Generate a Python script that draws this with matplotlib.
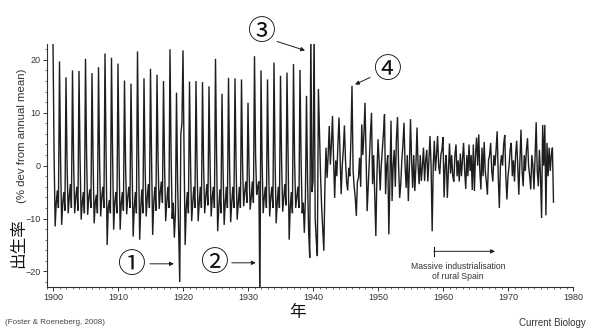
import numpy as np
import matplotlib
matplotlib.use("Agg")
import matplotlib.pyplot as plt
from matplotlib.ticker import MultipleLocator, FixedLocator

# Spanish birth rate, % deviation from annual mean, sampled every 2 months
# (Jan, Mar, May, Jul, Sep, Nov) -- values estimated from the figure
births_1900s = [
    23.5, 2.0, -11.5, -7.0, -4.7, -8.0,
    19.7, 1.0, -11.2, -7.0, -5.0, -8.5,
    16.7, 0.0, -9.0, -6.0, -3.5, -8.0,
    18.0, 1.0, -9.0, -6.0, -4.0, -8.5,
    17.9, 1.0, -10.2, -7.0, -5.0, -9.0,
    20.2, 2.0, -9.3, -6.0, -4.5, -8.0,
    17.5, 1.0, -10.9, -7.0, -5.5, -9.0,
    18.6, 1.0, -9.6, -6.0, -4.0, -8.0,
    21.2, 2.0, -15.0, -8.0, -6.5, -9.0,
    20.4, 2.0, -12.1, -7.0, -5.0, -9.0,
]
births_1910s = [
    19.3, 1.0, -12.1, -7.0, -5.0, -8.5,
    16.1, 0.0, -9.2, -6.0, -4.0, -8.0,
    15.5, 0.0, -13.4, -8.0, -5.0, -9.0,
    21.6, 2.0, -14.0, -8.0, -4.5, -9.0,
    16.5, 0.0, -9.6, -6.0, -3.5, -8.0,
    18.3, 1.0, -13.1, -7.0, -4.0, -8.5,
    17.2, 1.0, -8.2, -5.0, -3.0, -7.0,
    16.0, 0.0, -10.5, -7.0, -4.0, -8.0,
    22.0, 2.0, -10.0, -7.0, -13.6, -9.0,
    13.8, -3.0, -13.0, -22.0, 6.0, 8.0,
]
births_1920s = [
    21.8, 2.0, -15.0, -8.0, -5.0, -9.0,
    15.9, 0.0, -10.5, -7.0, -4.0, -8.0,
    16.0, 0.0, -10.5, -7.0, -4.0, -8.0,
    15.8, 0.0, -9.0, -6.0, -3.5, -7.5,
    15.0, 0.0, -9.6, -6.0, -4.0, -8.0,
    20.2, 2.0, -12.4, -8.0, -4.5, -9.0,
    13.6, -1.0, -11.2, -7.0, -4.0, -8.0,
    16.6, 0.0, -10.7, -7.0, -4.0, -8.0,
    16.5, 0.0, -10.2, -7.0, -4.0, -8.0,
    16.3, 0.0, -7.7, -5.0, -3.0, -7.0,
]
births_1930s = [
    11.9, -1.0, -8.3, -6.0, -3.0, -7.0,
    20.7, 2.0, -5.5, -4.0, -3.0, -26.0,
    18.0, 1.0, -9.0, -6.0, -4.0, -8.0,
    16.3, 0.0, -9.6, -6.0, -4.0, -8.0,
    19.5, 1.0, -10.9, -7.0, -4.0, -8.0,
    17.0, 1.0, -8.7, -6.0, -3.5, -7.5,
    17.6, 1.0, -14.0, -8.0, -5.0, -9.0,
    19.2, 1.0, -8.0, -6.0, -4.0, -8.0,
    18.1, 1.0, -9.0, -7.0, -12.7, -6.0,
    13.2, -3.0, -12.7, -17.4, 26.0, -5.0,
]
births_1940s = [
    -3.0, 26.0, -10.0, -14.0, -17.1, 14.5,
    6.0, -2.0, -8.0, -12.0, -16.1, -4.0,
    3.4, -2.3, 2.0, 7.5, 0.2, 4.0,
    9.4, 1.0, -6.1, 1.0, -2.0, 4.0,
    9.1, 2.0, -5.4, 0.0, 3.0, 7.6,
    1.0, -3.0, -4.7, -0.4, -2.0, 5.0,
    15.1, -0.9, -4.0, -6.0, -9.5, -3.0,
    -2.3, 1.5, -4.0, 7.8, 2.0, 6.0,
    11.9, 2.0, -8.6, -4.0, 1.0, 6.0,
    10.0, -3.5, 2.0, -6.0, -13.3, -2.0,
]
births_1950s = [
    5.0, 1.0, -4.7, 0.0, 3.0, 6.0,
    9.7, -5.4, 0.0, 2.0, -13.0, -3.0,
    8.5, -6.7, 0.0, 3.0, -4.0, 5.0,
    9.2, 0.0, -6.1, -3.5, 1.0, 4.0,
    8.1, 0.0, -4.2, 2.0, -6.7, 0.0,
    8.8, 1.0, -4.2, 2.0, -4.8, 0.0,
    7.2, 0.0, -3.5, 2.0, -2.9, 0.0,
    3.4, -2.9, 1.0, 3.0, -3.0, 1.0,
    5.6, 0.0, -12.4, 0.0, 4.7, -1.0,
    2.0, 5.6, 0.0, -1.6, 2.0, 3.0,
]
births_1960s = [
    5.4, -6.0, 0.0, 2.0, -6.1, -1.0,
    4.2, -1.5, 2.0, -2.0, -3.0, 2.0,
    4.0, -2.0, 1.0, -3.0, 2.3, -2.0,
    1.0, 4.3, -1.0, -4.4, 2.0, -2.0,
    4.0, -1.0, 2.0, -4.6, 4.0, -4.8,
    2.0, 5.3, 0.0, 5.9, -1.0, -4.5,
    3.4, -2.0, 4.5, -1.0, -3.0, -5.5,
    1.0, 2.0, 4.3, -1.0, -3.0, 2.0,
    0.0, 3.0, 6.5, -2.0, -8.0, 0.0,
    2.0, 0.0, 4.0, 5.8, -2.0, -6.4,
]
births_1970s = [
    -2.0, 0.0, 3.0, 4.3, -2.0, 1.0,
    -3.0, 2.0, 4.7, 0.0, -5.5, 1.0,
    6.8, -1.0, -3.9, 2.0, -1.0, 3.0,
    5.2, 0.0, -2.0, -4.5, 2.0, 0.0,
    -4.5, 2.0, 8.2, -1.0, -3.9, 3.0,
    -2.0, -9.9, 7.7, 0.0, 7.7, -9.4,
    4.3, -2.0, 3.4, -1.0, 2.0, 3.4,
    -6.9,
]

start_year = 1900
samples_per_year = 6
x_major_ticks = [1900, 1910, 1920, 1930, 1940, 1950, 1960, 1970, 1980]
y_major_ticks = [-20, -10, 0, 10, 20]

values = np.array(births_1900s + births_1910s + births_1920s + births_1930s +
                  births_1940s + births_1950s + births_1960s + births_1970s)
years = start_year + np.arange(len(values)) / samples_per_year

CJK = ["Noto Sans CJK JP", "DejaVu Sans"]
SANS = ["Liberation Sans", "DejaVu Sans"]
INK = "#1e1e1e"

fig = plt.figure(figsize=(5.9, 3.32), dpi=100)
ax = fig.add_axes([46.5 / 590, (332 - 287.3) / 332, (573 - 46.5) / 590, (287.3 - 44) / 332])

ax.plot(years, values, color=INK, lw=1.0, solid_joinstyle="miter")

ax.set_xlim(1899, 1980)
ax.set_ylim(-23, 23)
for s in ("top", "right"):
    ax.spines[s].set_visible(False)
for s in ("left", "bottom"):
    ax.spines[s].set_color("#333333")
    ax.spines[s].set_linewidth(0.8)

ax.xaxis.set_major_locator(FixedLocator(x_major_ticks))
ax.xaxis.set_minor_locator(MultipleLocator(1))
ax.yaxis.set_major_locator(FixedLocator(y_major_ticks))
ax.yaxis.set_minor_locator(MultipleLocator(2))
ax.tick_params(which="major", direction="out", length=2.8, width=0.7, color="#333333",
               labelsize=6.5, labelcolor="#333333", pad=1.5)
ax.tick_params(which="minor", direction="out", length=1.5, width=0.5, color="#333333")
for lab in ax.get_xticklabels() + ax.get_yticklabels():
    lab.set_fontfamily(SANS)

# Y label: 出生率 (% dev from annual mean)
fig.text(19 / 590, (332 - 268) / 332, "出生率", rotation=90, ha="center", va="bottom",
         fontsize=12, family=CJK, color="#111111")
fig.text(22 / 590, (332 - 203) / 332, "(% dev from annual mean)", rotation=90,
         ha="center", va="bottom", fontsize=8.2, family=SANS, color="#333333")
# X label
fig.text(298 / 590, 1 - 313 / 332, "年", ha="center", va="center", fontsize=12,
         family=CJK, color="#111111")
fig.text(5 / 590, 1 - 323 / 332, "(Foster & Roeneberg, 2008)", ha="left", va="center",
         fontsize=5.8, family=SANS, color="#444444")
fig.text(586 / 590, 1 - 323 / 332, "Current Biology", ha="right", va="center",
         fontsize=7, family=SANS, color="#333333")

# circled markers and arrows
circ_kw = dict(ha="center", va="center", fontsize=20, family=CJK, color="#111111", clip_on=False)
ax.text(1912.0, -18.75, "①", **circ_kw)
ax.text(1924.77, -18.4, "②", **circ_kw)
ax.text(1932.0, 25.2, "③", **circ_kw)
ax.text(1951.38, 18.0, "④", **circ_kw)

arr = dict(arrowstyle="-|>", color=INK, lw=0.7, mutation_scale=6, shrinkA=0, shrinkB=0)
ax.annotate("", xy=(1918.6, -18.56), xytext=(1914.9, -18.56), arrowprops=arr, annotation_clip=False)
ax.annotate("", xy=(1931.2, -18.37), xytext=(1927.5, -18.37), arrowprops=arr, annotation_clip=False)
ax.annotate("", xy=(1938.77, 21.78), xytext=(1934.46, 23.48), arrowprops=arr, annotation_clip=False)
ax.annotate("", xy=(1946.46, 15.34), xytext=(1948.77, 16.67), arrowprops=arr, annotation_clip=False)

# industrialisation arrow
ax.plot([1958.6, 1958.6], [-15.3, -17.0], color=INK, lw=0.8)
ax.annotate("", xy=(1968.0, -16.2), xytext=(1958.6, -16.2),
            arrowprops=dict(arrowstyle="-|>", color=INK, lw=0.7, mutation_scale=6,
                            shrinkA=0, shrinkB=0))
ax.text(1962.3, -20.0, "Massive industrialisation\nof rural Spain", ha="center", va="center",
        fontsize=6.2, family=SANS, color="#333333", linespacing=1.05)

fig.savefig("out.png", dpi=100)
